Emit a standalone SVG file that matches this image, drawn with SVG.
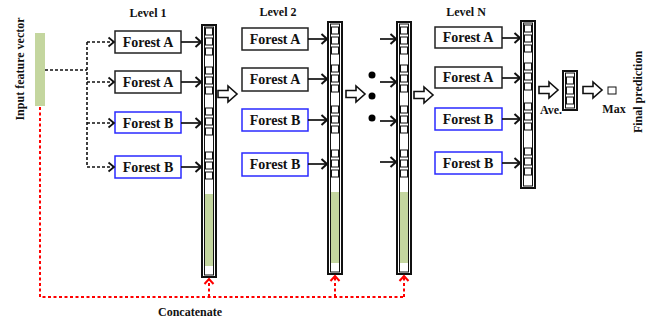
<svg xmlns="http://www.w3.org/2000/svg" width="654" height="320" viewBox="0 0 654 320">
<defs>
<style>
.t{font-family:"Liberation Serif","Times New Roman",serif;font-weight:bold;fill:#111}
.fa{fill:#fff;stroke:#222;stroke-width:1.5}
.fb{fill:#fff;stroke:#2a2aff;stroke-width:1.5}
.ft{font-size:14px;text-anchor:middle}
.lv{font-size:12px;text-anchor:middle}
.co{fill:#fff;stroke:#111;stroke-width:2}
.ci{fill:none;stroke:#111;stroke-width:1}
.sq{fill:#fff;stroke:#111;stroke-width:1}
.gr{fill:#c4d69f}
.sa{stroke:#111;stroke-width:1.7;fill:none;marker-end:url(#ah)}
.da{stroke:#111;stroke-width:1.6;fill:none;stroke-dasharray:3 2}
.ra{stroke:#f00;stroke-width:2;fill:none;stroke-dasharray:3 2.5}
.ho{fill:#fff;stroke:#111;stroke-width:1.6;stroke-linejoin:miter}
</style>
<marker id="ah" markerWidth="9" markerHeight="12" refX="7" refY="6" orient="auto" markerUnits="userSpaceOnUse">
<path d="M1.5,1 L7,6 L1.5,11" fill="none" stroke="#111" stroke-width="2"/>
</marker>
<marker id="dh" markerWidth="9" markerHeight="12" refX="7" refY="6" orient="auto" markerUnits="userSpaceOnUse">
<path d="M1.5,1.5 L7,6 L1.5,10.5" fill="none" stroke="#111" stroke-width="1.8"/>
</marker>
<marker id="rh" markerWidth="10" markerHeight="12" refX="6" refY="6" orient="auto" markerUnits="userSpaceOnUse">
<path d="M1,1.5 L6,6 L1,10.5" fill="none" stroke="#f00" stroke-width="2"/>
</marker>
<path id="hollow" d="M0,-3.5 L10,-3.5 L10,-8 L19,0 L10,8 L10,3.5 L0,3.5 Z"/>
</defs>

<!-- labels -->
<text class="t lv" x="148" y="17">Level 1</text>
<text class="t lv" x="278" y="16">Level 2</text>
<text class="t lv" x="466" y="16">Level N</text>
<text class="t" font-size="12" transform="translate(24,69) rotate(-90)" text-anchor="middle">Input feature vector</text>
<text class="t" font-size="12" transform="translate(642,92) rotate(-90)" text-anchor="middle">Final prediction</text>
<text class="t lv" x="190" y="316">Concatenate</text>
<text class="t" font-size="12" x="540" y="114">Ave.</text>
<text class="t" font-size="12" x="614" y="113" text-anchor="middle">Max</text>

<g id="input-vector"><rect class="gr" x="35" y="33" width="10" height="73"/></g>

<!-- Level 1 forests -->
<g id="l1-fa1"><rect class="fa" x="115" y="31" width="66" height="22"/><text class="t ft" x="148" y="47">Forest A</text></g>
<g id="l1-fa2"><rect class="fa" x="115" y="71" width="66" height="22"/><text class="t ft" x="148" y="87">Forest A</text></g>
<g id="l1-fb1"><rect class="fb" x="115" y="112" width="66" height="21"/><text class="t ft" x="148" y="128">Forest B</text></g>
<g id="l1-fb2"><rect class="fb" x="115" y="156" width="66" height="22"/><text class="t ft" x="148" y="172">Forest B</text></g>

<!-- Level 2 forests -->
<g id="l2-fa1"><rect class="fa" x="242" y="28" width="66" height="22"/><text class="t ft" x="275" y="44">Forest A</text></g>
<g id="l2-fa2"><rect class="fa" x="242" y="68" width="66" height="23"/><text class="t ft" x="275" y="84">Forest A</text></g>
<g id="l2-fb1"><rect class="fb" x="242" y="109" width="66" height="22"/><text class="t ft" x="275" y="125">Forest B</text></g>
<g id="l2-fb2"><rect class="fb" x="242" y="153" width="66" height="23"/><text class="t ft" x="275" y="169">Forest B</text></g>

<!-- Level N forests -->
<g id="ln-fa1"><rect class="fa" x="435" y="27" width="67" height="21"/><text class="t ft" x="468" y="42">Forest A</text></g>
<g id="ln-fa2"><rect class="fa" x="435" y="67" width="67" height="21"/><text class="t ft" x="468" y="82">Forest A</text></g>
<g id="ln-fb1"><rect class="fb" x="435" y="108" width="67" height="22"/><text class="t ft" x="468" y="124">Forest B</text></g>
<g id="ln-fb2"><rect class="fb" x="435" y="152" width="67" height="22"/><text class="t ft" x="468" y="168">Forest B</text></g>

<!-- Column 1 -->
<g id="col1">
<rect class="co" x="202" y="25" width="14" height="252"/>
<rect class="ci" x="204.5" y="27" width="9" height="248"/>
<rect class="gr" x="205" y="194" width="8" height="72"/>
<rect class="sq" x="205.5" y="28" width="7" height="7"/><rect class="sq" x="205.5" y="38" width="7" height="7"/><rect class="sq" x="205.5" y="48" width="7" height="7"/>
<rect class="sq" x="205.5" y="67" width="7" height="7"/><rect class="sq" x="205.5" y="77" width="7" height="7"/><rect class="sq" x="205.5" y="87" width="7" height="7"/>
<rect class="sq" x="205.5" y="108" width="7" height="7"/><rect class="sq" x="205.5" y="118" width="7" height="7"/><rect class="sq" x="205.5" y="128" width="7" height="7"/>
<rect class="sq" x="205.5" y="152" width="7" height="7"/><rect class="sq" x="205.5" y="162" width="7" height="7"/><rect class="sq" x="205.5" y="172" width="7" height="7"/>
</g>

<!-- Column 2 -->
<g id="col2">
<rect class="co" x="328" y="22" width="14" height="252"/>
<rect class="ci" x="330.5" y="24" width="9" height="248"/>
<rect class="gr" x="331" y="192" width="8" height="71"/>
<rect class="sq" x="331.5" y="27" width="7" height="7"/><rect class="sq" x="331.5" y="37" width="7" height="7"/><rect class="sq" x="331.5" y="47" width="7" height="7"/>
<rect class="sq" x="331.5" y="65" width="7" height="7"/><rect class="sq" x="331.5" y="75" width="7" height="7"/><rect class="sq" x="331.5" y="85" width="7" height="7"/>
<rect class="sq" x="331.5" y="106" width="7" height="7"/><rect class="sq" x="331.5" y="116" width="7" height="7"/><rect class="sq" x="331.5" y="126" width="7" height="7"/>
<rect class="sq" x="331.5" y="150" width="7" height="7"/><rect class="sq" x="331.5" y="160" width="7" height="7"/><rect class="sq" x="331.5" y="170" width="7" height="7"/>
</g>

<!-- Column 3 -->
<g id="col3">
<rect class="co" x="397" y="22" width="14" height="252"/>
<rect class="ci" x="399.5" y="24" width="9" height="248"/>
<rect class="gr" x="400" y="192" width="8" height="71"/>
<rect class="sq" x="400.5" y="27" width="7" height="7"/><rect class="sq" x="400.5" y="37" width="7" height="7"/><rect class="sq" x="400.5" y="47" width="7" height="7"/>
<rect class="sq" x="400.5" y="65" width="7" height="7"/><rect class="sq" x="400.5" y="75" width="7" height="7"/><rect class="sq" x="400.5" y="85" width="7" height="7"/>
<rect class="sq" x="400.5" y="106" width="7" height="7"/><rect class="sq" x="400.5" y="116" width="7" height="7"/><rect class="sq" x="400.5" y="126" width="7" height="7"/>
<rect class="sq" x="400.5" y="150" width="7" height="7"/><rect class="sq" x="400.5" y="160" width="7" height="7"/><rect class="sq" x="400.5" y="170" width="7" height="7"/>
</g>

<!-- Column N -->
<g id="colN">
<rect class="co" x="521" y="21" width="14" height="167"/>
<rect class="ci" x="523.5" y="23" width="9" height="163"/>
<rect class="sq" x="524.5" y="25" width="7" height="7"/><rect class="sq" x="524.5" y="35" width="7" height="7"/><rect class="sq" x="524.5" y="45" width="7" height="7"/>
<rect class="sq" x="524.5" y="63" width="7" height="7"/><rect class="sq" x="524.5" y="73" width="7" height="7"/><rect class="sq" x="524.5" y="83" width="7" height="7"/>
<rect class="sq" x="524.5" y="103" width="7" height="7"/><rect class="sq" x="524.5" y="113" width="7" height="7"/><rect class="sq" x="524.5" y="123" width="7" height="7"/>
<rect class="sq" x="524.5" y="148" width="7" height="7"/><rect class="sq" x="524.5" y="158" width="7" height="7"/><rect class="sq" x="524.5" y="168" width="7" height="7"/>
</g>

<!-- Average column -->
<g id="ave">
<rect class="co" x="563" y="71" width="14" height="39"/>
<rect class="ci" x="565.5" y="73" width="9" height="35"/>
<rect class="sq" x="566.5" y="77" width="7" height="7"/><rect class="sq" x="566.5" y="87" width="7" height="7"/><rect class="sq" x="566.5" y="97" width="7" height="7"/>
</g>

<g id="max"><rect class="sq" x="608" y="87" width="8" height="7"/></g>

<g id="dots">
<circle cx="372" cy="75" r="3.5" fill="#000"/>
<circle cx="372" cy="96" r="3.5" fill="#000"/>
<circle cx="372" cy="118" r="3.5" fill="#000"/>
</g>

<g id="connectors">
<!-- black dotted from input -->
<path class="da" d="M45,70 H87 M87,42 V167"/>
<path class="da" marker-end="url(#dh)" d="M87,42 H114"/>
<path class="da" marker-end="url(#dh)" d="M87,82 H114"/>
<path class="da" marker-end="url(#dh)" d="M87,123 H114"/>
<path class="da" marker-end="url(#dh)" d="M87,167 H114"/>
<!-- level1 to col1 -->
<path class="sa" d="M181,42 H201"/>
<path class="sa" d="M181,82 H201"/>
<path class="sa" d="M181,123 H201"/>
<path class="sa" d="M181,167 H201"/>
<!-- level2 to col2 -->
<path class="sa" d="M308,39 H327"/>
<path class="sa" d="M308,79 H327"/>
<path class="sa" d="M308,120 H327"/>
<path class="sa" d="M308,164 H327"/>
<!-- into col3 -->
<path class="sa" d="M380,39 H396"/>
<path class="sa" d="M380,82 H396"/>
<path class="sa" d="M380,121 H396"/>
<path class="sa" d="M380,162 H396"/>
<!-- levelN to colN -->
<path class="sa" d="M502,38 H520"/>
<path class="sa" d="M502,78 H520"/>
<path class="sa" d="M502,119 H520"/>
<path class="sa" d="M502,163 H520"/>
<!-- hollow arrows -->
<use href="#hollow" class="ho" transform="translate(218,94)"/>
<use href="#hollow" class="ho" transform="translate(346,94)"/>
<use href="#hollow" class="ho" transform="translate(414,95)"/>
<use href="#hollow" class="ho" transform="translate(539,90)"/>
<use href="#hollow" class="ho" transform="translate(583,90)"/>
<!-- red concatenate -->
<path class="ra" d="M40,107 V297 H405"/>
<path class="ra" marker-end="url(#rh)" d="M209,297 V279"/>
<path class="ra" marker-end="url(#rh)" d="M335,297 V276"/>
<path class="ra" marker-end="url(#rh)" d="M404,297 V276"/>
</g>
</svg>
